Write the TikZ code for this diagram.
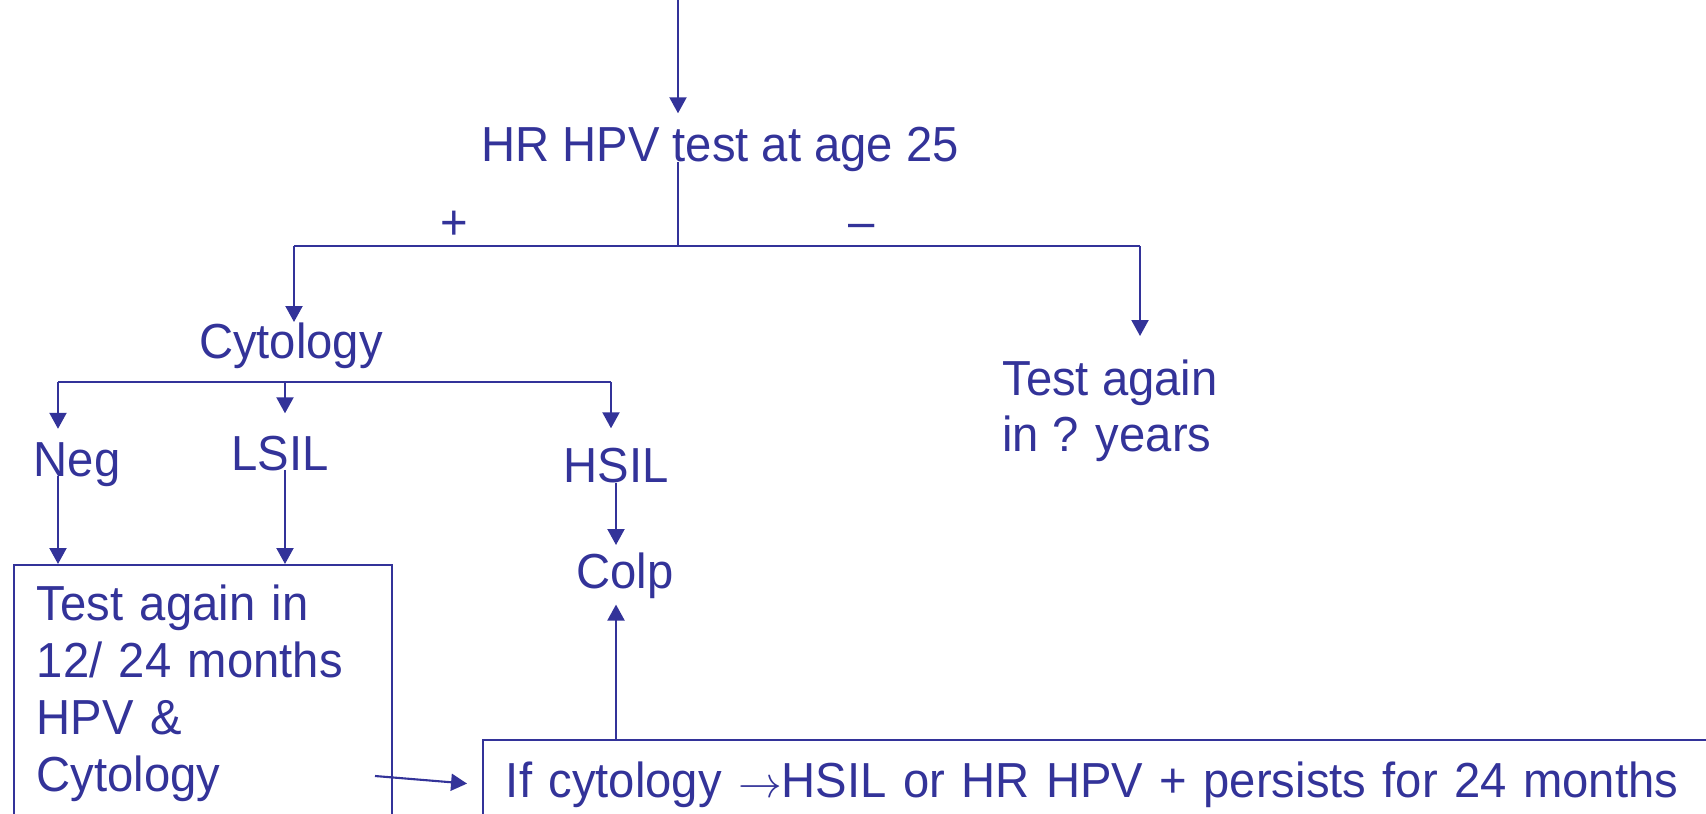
\documentclass[tikz,border=0pt]{standalone}
\usepackage{fontspec}
\setmainfont{Liberation Sans}[FakeStretch=0.96]
\usetikzlibrary{arrows.meta}
\definecolor{flowblue}{HTML}{333399}
\begin{document}
\begin{tikzpicture}[x=0.02cm,y=-0.02cm,
	every node/.style={text=flowblue,font=\fontsize{28}{32.4}\selectfont,inner sep=0pt},
	link/.style={draw=flowblue,line width=1.2pt},
	arr/.style={link,-{Triangle[length=0.32cm,width=0.34cm]}},
	box/.style={draw=flowblue,line width=1pt,anchor=north west,align=left,inner xsep=0.46cm}]
	\clip (0,0) rectangle (1706,814);
	\node[anchor=base] (hpv) at (720,162) {HR HPV test at age 25};
	\node (plus) at (454,225) {+};
	\node (minus) at (862,231) {--};
	\node[anchor=base] (cyto) at (291,358) {Cytology};
	\node[anchor=north west,align=left] (later) at (1002,359) {Test again\\in ? years};
	\node[anchor=base] (negres) at (77,476) {Neg};
	\node[anchor=base] (lsil) at (280,470) {LSIL};
	\node[anchor=base] (hsil) at (616,482) {HSIL};
	\node[anchor=base] (colp) at (625,588) {Colp};
	\node[box,inner ysep=0.4cm,text width=6.64cm] (retest) at (13,564) {Test again in\\12/ 24 months\\HPV \&\\Cytology};
	\node[box,inner ysep=0.44cm,text width=26cm] (persist) at (482,739) {If cytology $\rightarrow$HSIL or HR HPV + persists for 24 months};
	\coordinate (top) at (678,0);
	\coordinate (split) at (678,246);
	\coordinate (lturn) at (294,246);
	\coordinate (rturn) at (1140,246);
	\coordinate (negbar) at (58,382);
	\coordinate (lsilbar) at (285,382);
	\coordinate (hsilbar) at (611,382);
	\coordinate (tail) at (375,776);
	\draw[arr,shorten >=0.28cm] (top) -- (top |- hpv.north);
	\draw[link] (top |- hpv.base) -- (split);
	\draw[link] (lturn) -- (rturn);
	\draw[arr] (lturn) -- (lturn |- cyto.north);
	\draw[arr,shorten >=0.46cm] (rturn) -- (rturn |- later.north);
	\draw[link] (negbar) -- (hsilbar);
	\draw[arr,shorten >=0.26cm] (negbar) -- (negbar |- negres.north);
	\draw[arr,shorten >=0.44cm] (lsilbar) -- (lsilbar |- lsil.north);
	\draw[arr,shorten >=0.38cm] (hsilbar) -- (hsilbar |- hsil.north);
	\draw[arr] (negbar |- negres.base) -- (negbar |- retest.north);
	\draw[arr] (lsilbar |- lsil.base) -- (lsilbar |- retest.north);
	\draw[arr,shorten >=0.14cm] (hsil.south) -- (hsil.south |- colp.north);
	\draw[arr,shorten >=0.12cm] (hsil.south |- persist.north) -- (hsil.south |- colp.south);
	\draw[arr,shorten >=0.3cm] (tail) -- (persist.west);
\end{tikzpicture}
\end{document}
